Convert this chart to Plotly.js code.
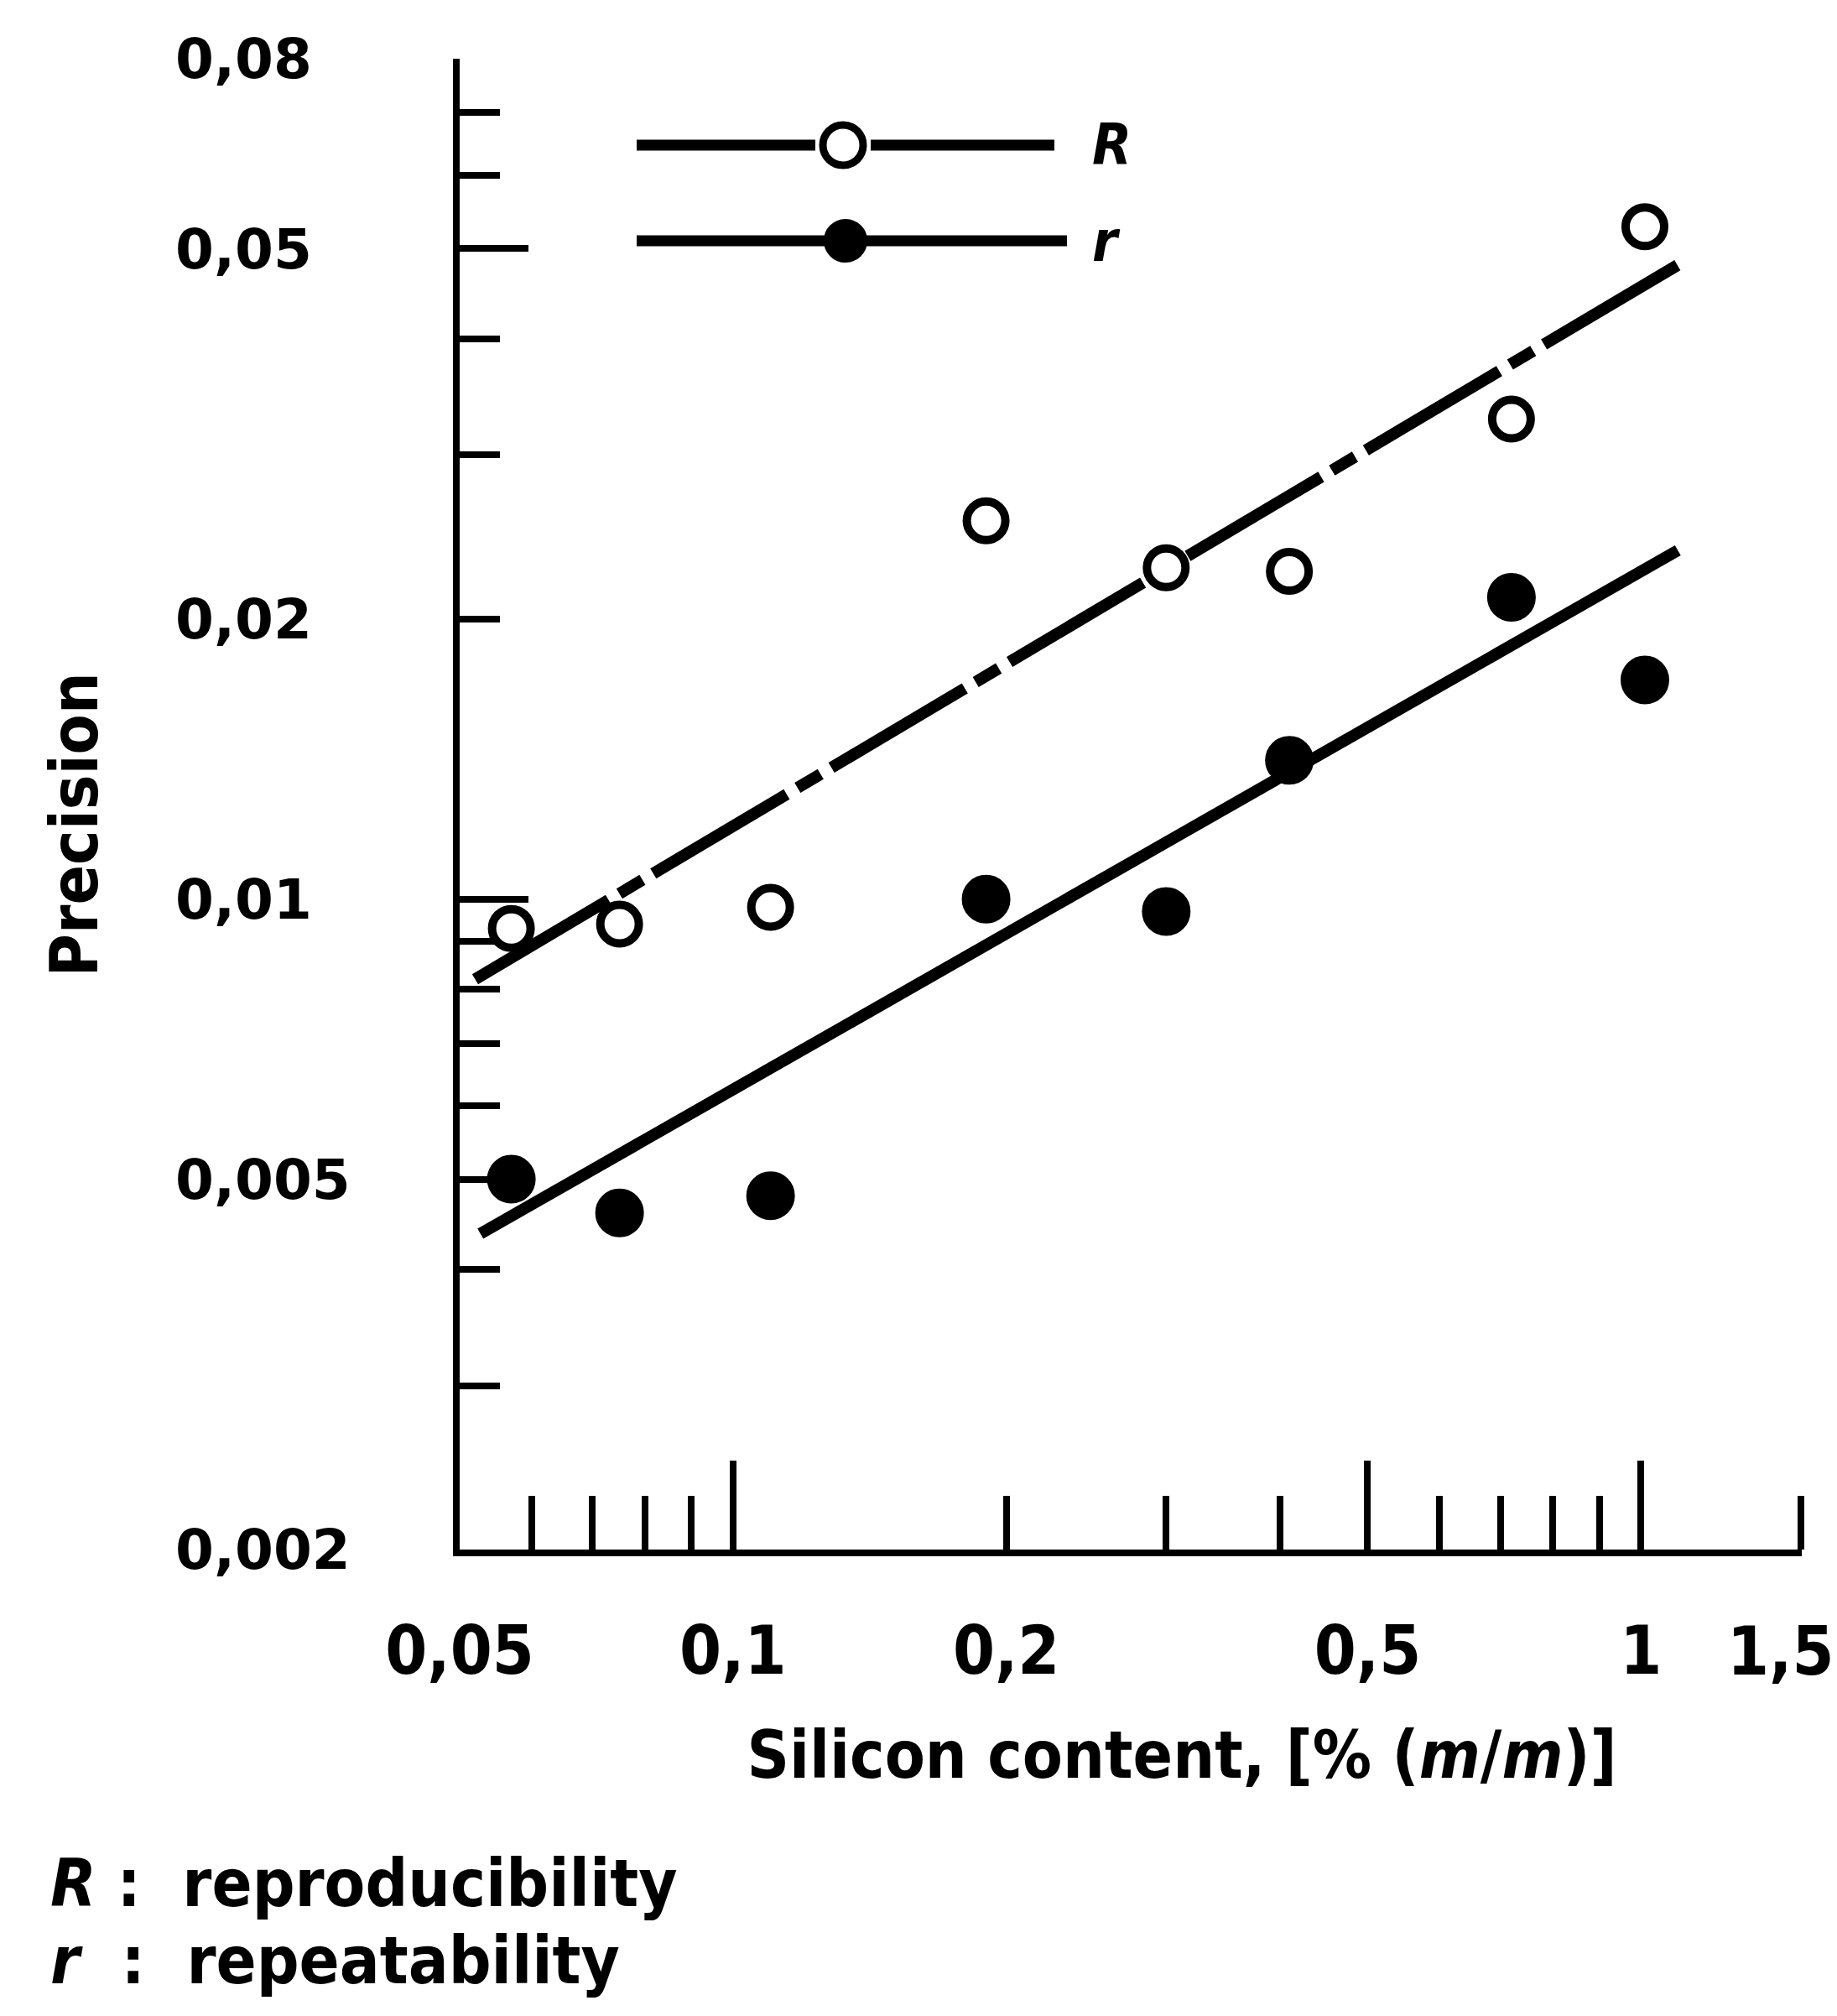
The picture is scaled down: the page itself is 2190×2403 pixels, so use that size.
<!DOCTYPE html>
<html><head><meta charset="utf-8">
<script src="https://cdn.plot.ly/plotly-3.0.1.min.js"></script>
<style>html,body{margin:0;padding:0;background:#fff}</style>
</head><body><div id="chart" style="width:2190px;height:2403px"></div>
<script>
// ---- data ----
const siliconContent   = [0.057, 0.075, 0.11, 0.19, 0.30, 0.41, 0.72, 1.01];
const reproducibilityR = [0.0093, 0.0094, 0.0098, 0.0255, 0.0227, 0.0225, 0.0328, 0.0528];
const repeatabilityR   = [0.0050, 0.0046, 0.0048, 0.0100, 0.0097, 0.0141, 0.0211, 0.0172];
// fitted lines: end points
const fitXR = [0.052, 1.105];
const fitYR = [0.0082, 0.0482];
const fitXr = [0.0527, 1.098];
const fitYr = [0.00437, 0.0237];

// ---- tick labels ----
const xTickVals = [0.05, 0.1, 0.2, 0.5, 1, 1.5];
const xTickText = ['0,05', '0,1', '0,2', '0,5', '1', '1,5'];
const xMajorTicks = [0.1, 0.5, 1];
const xMinorTicks = [0.06, 0.07, 0.08, 0.09, 0.2, 0.3, 0.4, 0.6, 0.7, 0.8, 0.9, 1.5];
const yTickVals = [0.002, 0.005, 0.01, 0.02, 0.05, 0.08];
const yTickText = ['0,002', '0,005', '0,01', '0,02', '0,05', '0,08'];
const yMajorTicks = [0.01, 0.05];
const yMinorTicks = [0.003, 0.004, 0.005, 0.006, 0.007, 0.008, 0.009, 0.02, 0.03, 0.04, 0.06, 0.07, 0.08];

const xRange = [Math.log10(0.05), Math.log10(1.5) + 0.001];
const yRange = [Math.log10(0.002), Math.log10(0.08)];

// left-align y labels by padding with no-break spaces (2 per missing digit)
const yTickTextPadded = yTickText.map(t => t + '\u00a0'.repeat(2 * (5 - t.length)));
// the last x label sits at the very edge: it is placed on the axis scale as an annotation, nudged left
const nX = xTickVals.length - 1;

const COND = 'DejaVu Sans Condensed, DejaVu Sans, sans-serif';
const BLACK = '#000';
const NB = n => '\u00a0'.repeat(n);
const ZW = '\u200b';
const xTickFont = {family: COND, size: 80, weight: 'bold', color: BLACK};

const traces = [
  {x: fitXR, y: fitYR, mode: 'lines', line: {color: BLACK, width: 14, dash: '185px,15px,32px,15px'},
   showlegend: false, hoverinfo: 'skip', name: 'R fit'},
  {x: fitXr, y: fitYr, mode: 'lines', line: {color: BLACK, width: 14},
   showlegend: false, hoverinfo: 'skip', name: 'r fit'},
  {x: siliconContent, y: reproducibilityR, mode: 'markers', name: 'R',
   marker: {symbol: 'circle', size: 46, color: '#fff', line: {color: BLACK, width: 10}},
   showlegend: false, cliponaxis: false},
  {x: siliconContent, y: repeatabilityR, mode: 'markers', name: 'r',
   marker: {symbol: 'circle', size: 56, color: BLACK, line: {color: BLACK, width: 2}},
   showlegend: false, cliponaxis: false},
  // empty traces only to create the overlaid tick axes
  {x: [], y: [], xaxis: 'x2', yaxis: 'y2', showlegend: false, hoverinfo: 'skip'},
  {x: [], y: [], xaxis: 'x3', yaxis: 'y3', showlegend: false, hoverinfo: 'skip'}
];

const L = 548, R = 2190 - 2148, T = 70, B = 556;
const W = 2190 - L - R, H = 2403 - T - B;
const px = v => (v - L) / W;           // page pixel -> paper x (for key/notes only)
const py = v => (2403 - B - v) / H;    // page pixel -> paper y

const tickAxisBase = {type: 'log', showgrid: false, zeroline: false, showline: false,
  showticklabels: false, tickmode: 'array', ticks: 'inside', tickcolor: BLACK};

const layout = {
  width: 2190, height: 2403,
  margin: {l: L, r: R, t: T, b: B, pad: 0},
  paper_bgcolor: '#fff', plot_bgcolor: '#fff',
  showlegend: false,
  font: {family: COND, color: BLACK},
  xaxis: {
    type: 'log', range: xRange, showgrid: false, zeroline: false,
    showline: true, linecolor: BLACK, linewidth: 8,
    tickmode: 'array', tickvals: xTickVals.slice(0, nX), ticktext: xTickText.slice(0, nX), ticks: '',
    tickfont: xTickFont,
    ticklabelstandoff: 44,
    title: {text: ZW + NB(5) + 'Silicon content, [% (<i>m</i>/<i>m</i>)]',
            font: {family: COND, size: 78, weight: 'bold', color: BLACK}, standoff: 54}
  },
  yaxis: {
    type: 'log', range: yRange, showgrid: false, zeroline: false,
    showline: true, linecolor: BLACK, linewidth: 8,
    tickmode: 'array', tickvals: yTickVals, ticktext: yTickTextPadded, ticks: '',
    ticklabeloverflow: 'allow',
    tickfont: {family: 'DejaVu Sans, sans-serif', size: 66, weight: 'bold', color: BLACK},
    ticklabelstandoff: 109,
    title: {text: 'Precision' + NB(2) + ZW, font: {family: COND, size: 78, weight: 'bold', color: BLACK}, standoff: 70}
  },
  xaxis2: Object.assign({}, tickAxisBase, {overlaying: 'x', anchor: 'y', range: xRange,
    tickvals: xMajorTicks, ticklen: 106, tickwidth: 8}),
  yaxis2: Object.assign({}, tickAxisBase, {overlaying: 'y', anchor: 'x', range: yRange,
    tickvals: yMajorTicks, ticklen: 82, tickwidth: 8}),
  xaxis3: Object.assign({}, tickAxisBase, {overlaying: 'x', anchor: 'y', range: xRange,
    tickvals: xMinorTicks, ticklen: 64, tickwidth: 8}),
  yaxis3: Object.assign({}, tickAxisBase, {overlaying: 'y', anchor: 'x', range: yRange,
    tickvals: yMinorTicks, ticklen: 48, tickwidth: 8}),
  shapes: [
    // key: R
    {type: 'line', xref: 'paper', yref: 'paper', x0: px(759), x1: px(972), y0: py(173), y1: py(173), line: {color: BLACK, width: 13}},
    {type: 'line', xref: 'paper', yref: 'paper', x0: px(1038), x1: px(1257), y0: py(173), y1: py(173), line: {color: BLACK, width: 13}},
    {type: 'circle', xref: 'paper', yref: 'paper', xsizemode: 'pixel', ysizemode: 'pixel',
     xanchor: px(1005), yanchor: py(173), x0: -24, x1: 24, y0: -24, y1: 24,
     fillcolor: '#fff', line: {color: BLACK, width: 9}},
    // key: r
    {type: 'line', xref: 'paper', yref: 'paper', x0: px(759), x1: px(1272), y0: py(287), y1: py(287), line: {color: BLACK, width: 13}},
    {type: 'circle', xref: 'paper', yref: 'paper', xsizemode: 'pixel', ysizemode: 'pixel',
     xanchor: px(1008), yanchor: py(287), x0: -25, x1: 25, y0: -25, y1: 25,
     fillcolor: BLACK, line: {color: BLACK, width: 2}}
  ],
  annotations: [
    // last x tick label (1,5), on the x scale
    {xref: 'x', yref: 'paper', x: Math.log10(xTickVals[nX]), y: py(1969), xanchor: 'center', yanchor: 'middle',
     xshift: -24, showarrow: false, text: xTickText[nX], font: xTickFont},
    // key texts
    {xref: 'paper', yref: 'paper', x: px(1300), y: py(173), xanchor: 'left', yanchor: 'middle', showarrow: false,
     text: '<i>R</i>', font: {family: COND, size: 68, weight: 'bold', color: BLACK}},
    {xref: 'paper', yref: 'paper', x: px(1300), y: py(287), xanchor: 'left', yanchor: 'middle', showarrow: false,
     text: '<i>r</i>', font: {family: COND, size: 68, weight: 'bold', color: BLACK}},
    // notes
    {xref: 'paper', yref: 'paper', x: px(58), y: py(2245), xanchor: 'left', yanchor: 'middle', showarrow: false,
     text: '<i>R</i>' + NB(1) + ':' + NB(2) + 'reproducibility', font: {family: COND, size: 79, weight: 'bold', color: BLACK}},
    {xref: 'paper', yref: 'paper', x: px(58), y: py(2337), xanchor: 'left', yanchor: 'middle', showarrow: false,
     text: '<i>r</i>' + NB(2) + ':' + NB(2) + 'repeatability', font: {family: COND, size: 79, weight: 'bold', color: BLACK}}
  ]
};

Plotly.newPlot('chart', traces, layout, {staticPlot: true, displayModeBar: false});
</script>
</body></html>
